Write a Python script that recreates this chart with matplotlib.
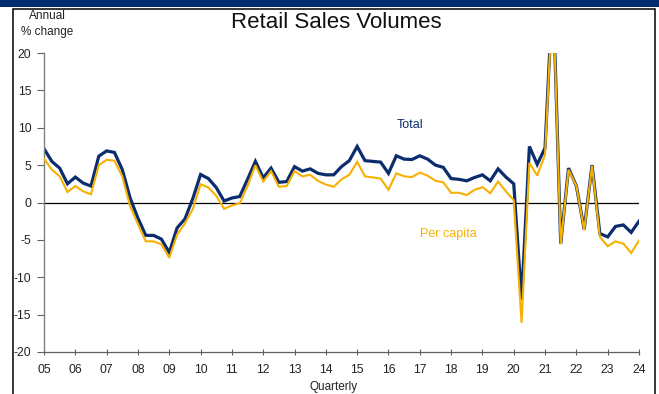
import matplotlib
matplotlib.use("Agg")
import matplotlib.pyplot as plt
from matplotlib.patches import Rectangle
import numpy as np

plt.rcParams['font.family'] = ['Liberation Sans', 'DejaVu Sans']

start_year = 2005
total = [7.2, 5.5, 4.6, 2.5, 3.4, 2.6, 2.2, 6.2, 6.9, 6.7,
         4.4, 0.6, -2.1, -4.4, -4.4, -4.9, -6.7, -3.4, -2.2, 0.5,
         3.75, 3.2, 2.0, 0.2, 0.6, 0.8, 3.1, 5.5, 3.3, 4.6,
         2.7, 2.8, 4.8, 4.2, 4.5, 3.9, 3.7, 3.7, 4.8, 5.6,
         7.5, 5.6, 5.5, 5.4, 3.9, 6.25, 5.8, 5.75, 6.25, 5.8,
         5.0, 4.7, 3.2, 3.1, 2.9, 3.35, 3.7, 2.9, 4.5, 3.4,
         2.5, -13.0, 7.5, 5.1, 7.3, 29.0, -5.5, 4.6, 2.2, -3.6,
         5.0, -4.15, -4.6, -3.2, -3.0, -4.0, -2.5]
per_capita = [5.85, 4.4, 3.5, 1.4, 2.2, 1.5, 1.1, 5.0, 5.7, 5.6,
              3.5, -0.5, -2.9, -5.2, -5.2, -5.6, -7.4, -4.3, -2.8, -0.9,
              2.45, 2.0, 0.9, -0.85, -0.4, -0.1, 2.2, 5.0, 2.8, 4.2,
              2.1, 2.2, 4.2, 3.5, 3.7, 2.9, 2.4, 2.1, 3.1, 3.7,
              5.45, 3.5, 3.35, 3.2, 1.7, 3.9, 3.5, 3.4, 4.0, 3.6,
              2.9, 2.7, 1.3, 1.3, 1.0, 1.7, 2.05, 1.25, 2.8, 1.5,
              0.3, -16.1, 5.3, 3.6, 6.4, 28.5, -5.6, 4.4, 2.2, -3.7,
              4.9, -4.6, -5.85, -5.2, -5.5, -6.75, -5.1]
year_ticks = list(range(2005, 2025))
year_labels = [f"{y % 100:02d}" for y in year_ticks]
y_ticks = [-20, -15, -10, -5, 0, 5, 10, 15, 20]

navy = '#0B2D6E'
gold = '#F6B100'

W, H = 659, 394
fig = plt.figure(figsize=(W / 100, H / 100), dpi=100)

# top navy band and frame
fig.patches.append(Rectangle((0, 1 - 7 / H), 1, 7 / H, transform=fig.transFigure,
                             facecolor='#002D72', edgecolor='none', zorder=0))
fig.patches.append(Rectangle((13 / W, -0.05), (655 - 13) / W, 1 - 9 / H + 0.05,
                             transform=fig.transFigure, facecolor='none',
                             edgecolor='black', linewidth=1.1, zorder=1))

ax = fig.add_axes([44 / W, 1 - 352 / H, (639 - 44) / W, (352 - 53) / H])
x = start_year + np.arange(len(total)) / 4.0

ax.axhline(0, color='black', linewidth=0.9, zorder=1)
ax.plot(x, total, color=navy, linewidth=2.3, zorder=2, solid_joinstyle='miter')
ax.plot(x, per_capita, color=gold, linewidth=1.5, zorder=3, solid_joinstyle='miter')

ax.set_xlim(2005, 2024)
ax.set_ylim(-20, 20)
ax.set_xticks(year_ticks)
ax.set_xticklabels(year_labels)
ax.set_yticks(y_ticks)
ax.set_yticklabels([str(v) for v in y_ticks])

for s in ['top', 'right']:
    ax.spines[s].set_visible(False)
ax.spines['left'].set_color('#808080')
ax.spines['bottom'].set_color('#606060')
ax.spines['left'].set_linewidth(1.0)
ax.spines['bottom'].set_linewidth(0.9)
ax.tick_params(axis='y', direction='out', length=5, width=0.8, color='#606060',
               labelsize=8.8, pad=4, labelcolor='#222222')
ax.tick_params(axis='x', direction='inout', length=5, width=0.8, color='#606060',
               labelsize=8.8, pad=6, labelcolor='#222222')
ax.patch.set_visible(False)

fig.text(336 / W, 1 - 23 / H, 'Retail Sales Volumes', ha='center', va='center',
         fontsize=16, color='#111111')
fig.text(47 / W, 1 - 24 / H, 'Annual\n% change', ha='center', va='center',
         fontsize=8.5, color='#222222', linespacing=1.35)
fig.text(334 / W, 1 - 387 / H, 'Quarterly', ha='center', va='center',
         fontsize=8.5, color='#222222')

ax.text(2016.7, 10.4, 'Total', color=navy, fontsize=9, ha='center', va='center')
ax.text(2017.9, -4.2, 'Per capita', color=gold, fontsize=9, ha='center', va='center')

fig.savefig('out.png', dpi=100)
